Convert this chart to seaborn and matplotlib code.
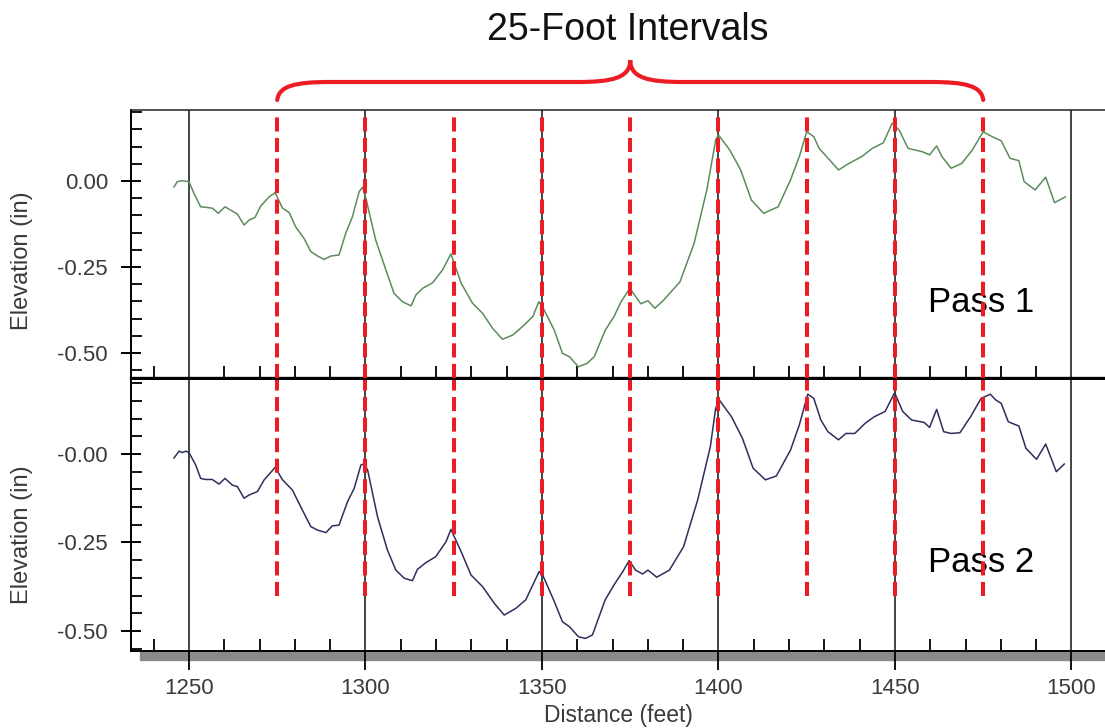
import numpy as np
import pandas as pd
import seaborn as sns
import matplotlib.pyplot as plt
from matplotlib.path import Path
from matplotlib.patches import PathPatch, Rectangle
from matplotlib.ticker import MultipleLocator, FixedLocator

# %%
# Data
dist_pass1 = [1245.7, 1246.7, 1248.1, 1250.0, 1251.4, 1253.3, 1255.2, 1256.6, 1258.3, 1260.2,
              1263.7, 1265.6, 1267.0, 1268.7, 1270.3, 1272.7, 1274.4, 1276.5, 1278.4, 1280.2,
              1282.6, 1284.5, 1286.4, 1288.3, 1290.2, 1292.5, 1294.4, 1296.3, 1298.2, 1299.2,
              1300.1, 1302.9, 1305.8, 1308.1, 1310.5, 1312.9, 1314.3, 1316.2, 1319.0, 1321.8,
              1324.2, 1327.1, 1330.3, 1333.2, 1336.0, 1338.8, 1341.7, 1344.5, 1347.4, 1349.1,
              1350.2, 1353.5, 1355.8, 1357.8, 1360.3, 1362.8, 1364.8, 1367.9, 1370.4, 1372.4,
              1374.9, 1378.0, 1380.0, 1382.0, 1384.5, 1389.1, 1393.1, 1396.7, 1399.2, 1400.0,
              1403.2, 1406.3, 1409.3, 1412.8, 1416.9, 1420.4, 1422.9, 1425.0, 1427.0, 1428.5,
              1431.5, 1434.0, 1436.6, 1440.6, 1443.6, 1446.7, 1449.2, 1451.2, 1453.7, 1457.8,
              1459.8, 1461.8, 1463.3, 1465.9, 1468.9, 1471.9, 1475.0, 1477.5, 1480.1, 1482.6,
              1485.1, 1486.6, 1489.7, 1492.7, 1495.2, 1498.3]
elev_pass1 = [-0.018, -0.002, 0.001, -0.002, -0.036, -0.075, -0.077, -0.079, -0.094, -0.075,
              -0.096, -0.128, -0.114, -0.106, -0.073, -0.046, -0.034, -0.079, -0.092, -0.133,
              -0.167, -0.205, -0.218, -0.228, -0.218, -0.215, -0.152, -0.104, -0.031, -0.018,
              -0.050, -0.172, -0.259, -0.327, -0.351, -0.363, -0.331, -0.312, -0.296, -0.259,
              -0.212, -0.297, -0.355, -0.385, -0.428, -0.460, -0.448, -0.423, -0.394, -0.351,
              -0.367, -0.434, -0.501, -0.511, -0.540, -0.530, -0.511, -0.434, -0.394, -0.351,
              -0.312, -0.357, -0.348, -0.370, -0.346, -0.293, -0.181, -0.026, 0.119, 0.134,
              0.090, 0.032, -0.055, -0.094, -0.075, 0.003, 0.071, 0.143, 0.129, 0.095,
              0.061, 0.032, 0.049, 0.071, 0.095, 0.111, 0.168, 0.148, 0.095, 0.085,
              0.076, 0.102, 0.071, 0.037, 0.051, 0.090, 0.143, 0.129, 0.117, 0.066,
              0.059, -0.002, -0.026, 0.011, -0.063, -0.046]

dist_pass2 = [1245.7, 1247.2, 1248.1, 1249.1, 1250.0, 1251.9, 1253.3, 1254.7, 1256.6, 1258.5,
              1260.2, 1262.3, 1263.7, 1265.6, 1267.0, 1269.4, 1271.3, 1274.4, 1276.5, 1279.3,
              1282.1, 1284.5, 1286.4, 1288.8, 1290.6, 1292.5, 1294.9, 1296.8, 1298.7, 1299.6,
              1300.6, 1303.4, 1306.2, 1308.6, 1311.0, 1313.3, 1314.7, 1317.1, 1319.9, 1322.8,
              1324.2, 1327.1, 1329.9, 1333.2, 1336.5, 1339.3, 1342.6, 1345.4, 1348.3, 1349.2,
              1350.2, 1353.5, 1355.8, 1357.8, 1360.3, 1362.3, 1364.3, 1367.9, 1370.4, 1372.9,
              1374.7, 1376.5, 1378.5, 1380.0, 1382.5, 1386.1, 1390.1, 1394.1, 1397.7, 1399.2,
              1400.2, 1403.7, 1406.8, 1409.8, 1413.3, 1416.4, 1420.4, 1422.9, 1425.3, 1427.0,
              1429.0, 1431.0, 1434.0, 1436.1, 1438.6, 1441.6, 1444.1, 1447.2, 1449.9, 1452.2,
              1454.7, 1458.3, 1459.8, 1461.8, 1463.8, 1465.9, 1468.4, 1471.4, 1474.4, 1477.0,
              1478.5, 1480.1, 1482.1, 1485.1, 1487.1, 1490.1, 1492.7, 1495.7, 1498.0]
elev_pass2 = [-0.012, 0.008, 0.004, 0.008, 0.004, -0.031, -0.069, -0.072, -0.072, -0.085,
              -0.069, -0.088, -0.092, -0.125, -0.116, -0.106, -0.073, -0.038, -0.073, -0.102,
              -0.158, -0.205, -0.215, -0.222, -0.203, -0.201, -0.135, -0.097, -0.031, -0.028,
              -0.045, -0.177, -0.271, -0.328, -0.351, -0.358, -0.326, -0.307, -0.290, -0.248,
              -0.213, -0.276, -0.342, -0.375, -0.422, -0.455, -0.436, -0.412, -0.351, -0.332,
              -0.342, -0.417, -0.474, -0.488, -0.516, -0.521, -0.511, -0.412, -0.370, -0.332,
              -0.301, -0.328, -0.339, -0.328, -0.348, -0.328, -0.262, -0.130, 0.021, 0.129,
              0.153, 0.105, 0.044, -0.040, -0.073, -0.062, 0.011, 0.082, 0.169, 0.157,
              0.096, 0.063, 0.040, 0.058, 0.058, 0.087, 0.105, 0.120, 0.173, 0.120,
              0.096, 0.089, 0.075, 0.126, 0.063, 0.058, 0.060, 0.105, 0.157, 0.169,
              0.153, 0.143, 0.091, 0.079, 0.016, -0.015, 0.028, -0.050, -0.028]

interval_marks = [1275, 1300, 1325, 1350, 1375, 1400, 1425, 1450, 1475]
x_ticks = [1250, 1300, 1350, 1400, 1450, 1500]
y_ticks = [0.0, -0.25, -0.50]
y_labels_pass1 = ['0.00', '-0.25', '-0.50']
y_labels_pass2 = ['-0.00', '-0.25', '-0.50']

df_p1 = pd.DataFrame({'distance': dist_pass1, 'elevation': elev_pass1})
df_p2 = pd.DataFrame({'distance': dist_pass2, 'elevation': elev_pass2})

# %%
sns.set_style('white')
plt.rcParams['font.family'] = ['Liberation Sans', 'DejaVu Sans']

RED = '#ec1c24'
TXT = '#3a3a3a'

fig = plt.figure(figsize=(11.05, 7.28), dpi=100)
ax1 = fig.add_axes([131 / 1105, 1 - 378 / 728, 1 - 131 / 1105, 268 / 728])
ax2 = fig.add_axes([131 / 1105, 1 - 651 / 728, 1 - 131 / 1105, 271 / 728])

panels = [
    (ax1, df_p1, '#5b8c5a', y_labels_pass1, (-0.5727, 0.2064), 'Pass 1', 0.246, 0.437),
    (ax2, df_p2, '#2d2f5c', y_labels_pass2, (-0.5565, 0.209), 'Pass 2', 0.2915, 0.428),
]

for i, (ax, df_plot, col, ylabs, ylim, name, ty, ly) in enumerate(panels):
    sns.lineplot(data=df_plot, x='distance', y='elevation', ax=ax, color=col, lw=1.1, zorder=3)
    ax.set_xlim(1233.57, 1509.5)
    ax.set_ylim(*ylim)

    ax.xaxis.set_major_locator(FixedLocator(x_ticks))
    ax.xaxis.set_minor_locator(MultipleLocator(10))
    ax.yaxis.set_major_locator(FixedLocator(y_ticks))
    ax.yaxis.set_minor_locator(MultipleLocator(0.05))
    ax.set_yticklabels(ylabs)

    ax.xaxis.grid(True, which='major', color='#111111', lw=1.1, zorder=1)
    ax.set_axisbelow(True)

    # seaborn's white style switches ticks off, turn them back on
    ax.tick_params(which='both', left=True, bottom=True, top=False, right=False)
    ax.tick_params(axis='y', which='major', direction='inout', length=15, width=1.4,
                   color='black', pad=9, labelsize=16, labelcolor=TXT)
    ax.tick_params(axis='y', which='minor', direction='in', length=8, width=1.3, color='black')
    ax.tick_params(axis='x', which='minor', direction='in', length=8.5, width=1.3, color='black')

    ax.set_ylabel('Elevation (in)', fontsize=17, color=TXT)
    ax.yaxis.set_label_coords(-0.1006, ly)

    ax.spines['right'].set_visible(False)
    ax.spines['left'].set_linewidth(1.4)
    ax.spines['left'].set_color('black')

    ax.text(0.818, ty, name, transform=ax.transAxes, fontsize=25, color='black',
            ha='left', va='baseline', zorder=2)

# top panel: no x labels, thick divider at the bottom
ax1.tick_params(axis='x', which='major', length=0, labelbottom=False)
ax1.set_xlabel('')
ax1.spines['bottom'].set_linewidth(2.4)
ax1.spines['bottom'].set_color('black')
ax1.spines['top'].set_linewidth(1.1)
ax1.spines['top'].set_color('#222222')
ax1.vlines(interval_marks, -0.5727, 0.188, colors=RED, lw=2.9,
           linestyles=(0, (3.5, 1.6)), zorder=4)

# bottom panel
ax2.spines['top'].set_visible(False)
ax2.spines['bottom'].set_linewidth(1.4)
ax2.spines['bottom'].set_color('black')
ax2.tick_params(axis='x', which='major', direction='out', length=13.5, width=1.3,
                color='black', pad=6, labelsize=16, labelcolor=TXT)
ax2.set_xlabel('Distance (feet)', fontsize=16.5, color=TXT)
ax2.xaxis.set_label_coords(0.5, -0.196)
ax2.vlines(interval_marks, -0.40, 0.209, colors=RED, lw=2.9,
           linestyles=(0, (3.5, 1.6)), zorder=4)

# grey shadow under the lower axis
fig.add_artist(Rectangle((140 / 1105, 1 - 660 / 728), 1 - 140 / 1105, 8 / 728,
                         transform=fig.transFigure, color='#8a8a8a', zorder=-1))

# curly brace over the 25-foot marks
x0, x1 = interval_marks[0], interval_marks[-1]
xm = (x0 + x1) / 2
yb, yh, yt = 1.0373, 1.1045, 1.1866
verts = [(x0, yb), (x0 + 0.5, 1.09), (x0 + 5, yh), (x0 + 15, yh),
         (xm - 15, yh),
         (xm - 5, yh), (xm, 1.12), (xm, yt),
         (xm, 1.12), (xm + 5, yh), (xm + 15, yh),
         (x1 - 15, yh),
         (x1 - 5, yh), (x1 - 0.5, 1.09), (x1, yb)]
codes = [Path.MOVETO, Path.CURVE4, Path.CURVE4, Path.CURVE4,
         Path.LINETO,
         Path.CURVE4, Path.CURVE4, Path.CURVE4,
         Path.CURVE4, Path.CURVE4, Path.CURVE4,
         Path.LINETO,
         Path.CURVE4, Path.CURVE4, Path.CURVE4]
brace = PathPatch(Path(verts, codes), facecolor='none', edgecolor=RED, lw=3,
                  transform=ax1.get_xaxis_transform(), clip_on=False, capstyle='round')
ax1.add_patch(brace)

fig.text(628 / 1105, 1 - 40 / 728, '25-Foot Intervals', fontsize=27, color='#111111',
         ha='center', va='baseline')

fig.savefig('out.png', dpi=100)
